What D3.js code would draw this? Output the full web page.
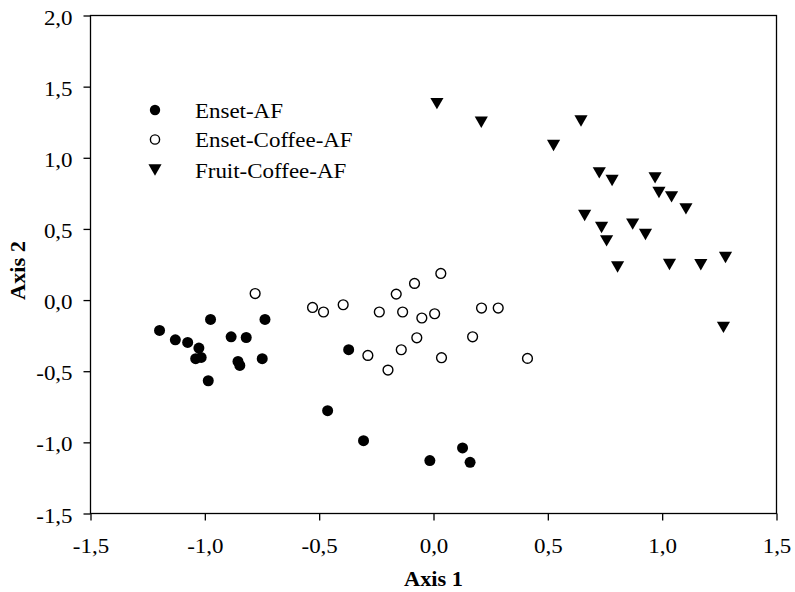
<!DOCTYPE html>
<html>
<head>
<meta charset="utf-8">
<script src="https://cdn.jsdelivr.net/npm/d3@7/dist/d3.min.js"></script>
<style>
  html, body { margin: 0; padding: 0; background: #fff; }
  svg { display: block; }
  text { font-family: "Liberation Serif", "Times New Roman", serif; fill: #000; }
</style>
</head>
<body>
<svg id="chart" width="795" height="592"></svg>
<script>
// Ordination scores per agroforestry type (Axis 1, Axis 2)
const ensetAF = [
  [-1.198, -0.213], [-1.129, -0.279], [-1.075, -0.298], [-1.026, -0.337],
  [-1.040, -0.412], [-1.016, -0.403], [-0.975, -0.136], [-0.985, -0.567],
  [-0.885, -0.258], [-0.819, -0.263], [-0.855, -0.431], [-0.847, -0.459],
  [-0.737, -0.136], [-0.749, -0.412], [-0.371, -0.349], [-0.463, -0.777],
  [-0.306, -0.988], [-0.016, -1.128], [0.127, -1.039], [0.160, -1.140]
];
const ensetCoffeeAF = [
  [-0.780, 0.046], [-0.529, -0.052], [-0.481, -0.084], [-0.395, -0.033],
  [-0.237, -0.084], [-0.163, 0.042], [-0.083, 0.117], [0.032, 0.187],
  [-0.135, -0.084], [-0.051, -0.126], [0.005, -0.096], [0.210, -0.056],
  [0.283, -0.056], [-0.073, -0.265], [-0.141, -0.349], [-0.287, -0.389],
  [-0.199, -0.492], [0.035, -0.405], [0.171, -0.258], [0.411, -0.410]
];
const fruitCoffeeAF = [
  [0.015, 1.381], [0.209, 1.250], [0.645, 1.259], [0.525, 1.086],
  [0.725, 0.894], [0.781, 0.840], [0.969, 0.859], [0.986, 0.756],
  [1.041, 0.725], [1.104, 0.641], [0.661, 0.594], [0.735, 0.510],
  [0.757, 0.416], [0.871, 0.534], [0.927, 0.461], [0.805, 0.232],
  [1.032, 0.250], [1.169, 0.248], [1.277, 0.299], [1.268, -0.192]
];
const seriesNames = ["Enset-AF", "Enset-Coffee-AF", "Fruit-Coffee-AF"];
const xTicks = [-1.5, -1.0, -0.5, 0.0, 0.5, 1.0, 1.5];
const yTicks = [-1.5, -1.0, -0.5, 0.0, 0.5, 1.0, 1.5, 2.0];
const xTitle = "Axis 1";
const yTitle = "Axis 2";

const svg = d3.select("#chart");
const plotL = 90.5, plotR = 776.5, plotT = 15.5, plotB = 513.5;
const FS = 20.5;      // text size
const WIDEN = 1.12;   // horizontal stretch of the serif type
const WIDEN_B = 1.09; // same for bold titles

const x = d3.scaleLinear().domain([-1.5, 1.5]).range([plotL, plotR]);
const y = d3.scaleLinear().domain([-1.5, 2.0]).range([plotB, plotT]);
const fmt = d => d3.format(".1f")(d).replace(".", ",").replace("−", "-");

// Frame
svg.append("rect")
  .attr("x", plotL).attr("y", plotT)
  .attr("width", plotR - plotL).attr("height", plotB - plotT)
  .attr("fill", "none").attr("stroke", "#000").attr("stroke-width", 1.3);

// Axes
const xAxis = svg.append("g")
  .attr("transform", `translate(0,${plotB})`)
  .call(d3.axisBottom(x).tickValues(xTicks).tickFormat(fmt).tickSize(7).tickPadding(18));
const yAxis = svg.append("g")
  .attr("transform", `translate(${plotL},0)`)
  .call(d3.axisLeft(y).tickValues(yTicks).tickFormat(fmt).tickSize(7).tickPadding(9));
[xAxis, yAxis].forEach(g => {
  g.select(".domain").remove();
  g.selectAll(".tick line").attr("stroke", "#000").attr("stroke-width", 1.3);
  g.selectAll(".tick text")
    .attr("font-family", "Liberation Serif, Times New Roman, serif")
    .attr("font-size", FS).attr("fill", "#000")
    .attr("transform", `scale(${WIDEN},1)`);
});
yAxis.selectAll(".tick text").attr("dy", "0.42em");

// Axis titles
svg.append("text")
  .attr("transform", `translate(${(plotL + plotR) / 2},586) scale(${WIDEN_B},1)`)
  .attr("text-anchor", "middle")
  .attr("font-size", FS).attr("font-weight", "bold")
  .text(xTitle);
svg.append("text")
  .attr("transform", `translate(25,270.5) rotate(-90) scale(${WIDEN_B},1)`)
  .attr("text-anchor", "middle")
  .attr("font-size", FS).attr("font-weight", "bold")
  .text(yTitle);

// Marker drawers
const r = 5.5;
const triSize = 75;
const tri = d3.symbol().type(d3.symbolTriangle).size(triSize);
// shift so the triangle's bounding box, not its centroid, sits on the point
const triH = Math.sqrt(triSize / (3 * Math.sqrt(3))) * 1.5 * 1.0;
const triShift = triH / 6 * 2;

function drawFilled(g, cx, cy, rad) {
  g.append("circle").attr("cx", cx).attr("cy", cy).attr("r", rad).attr("fill", "#000");
}
function drawOpen(g, cx, cy, rad) {
  g.append("circle").attr("cx", cx).attr("cy", cy).attr("r", rad - 0.6)
    .attr("fill", "#fff").attr("stroke", "#000").attr("stroke-width", 1.4);
}
function drawTri(g, cx, cy) {
  g.append("path").attr("d", tri())
    .attr("transform", `translate(${cx},${cy - triShift}) rotate(180)`)
    .attr("fill", "#000");
}

const pts = svg.append("g");
ensetAF.forEach(d => drawFilled(pts, x(d[0]), y(d[1]), r));
ensetCoffeeAF.forEach(d => drawOpen(pts, x(d[0]), y(d[1]), r));
fruitCoffeeAF.forEach(d => drawTri(pts, x(d[0]), y(d[1])));

// Legend
const legend = svg.append("g");
const legendY = [110, 139.5, 170];
drawFilled(legend, 155, legendY[0], 5.2);
drawOpen(legend, 155, legendY[1], 5.2);
drawTri(legend, 155, legendY[2]);
seriesNames.forEach((name, i) => {
  legend.append("text")
    .attr("transform", `translate(195,${legendY[i] + 7.5}) scale(${WIDEN},1)`)
    .attr("font-size", FS)
    .text(name);
});
</script>
</body>
</html>
